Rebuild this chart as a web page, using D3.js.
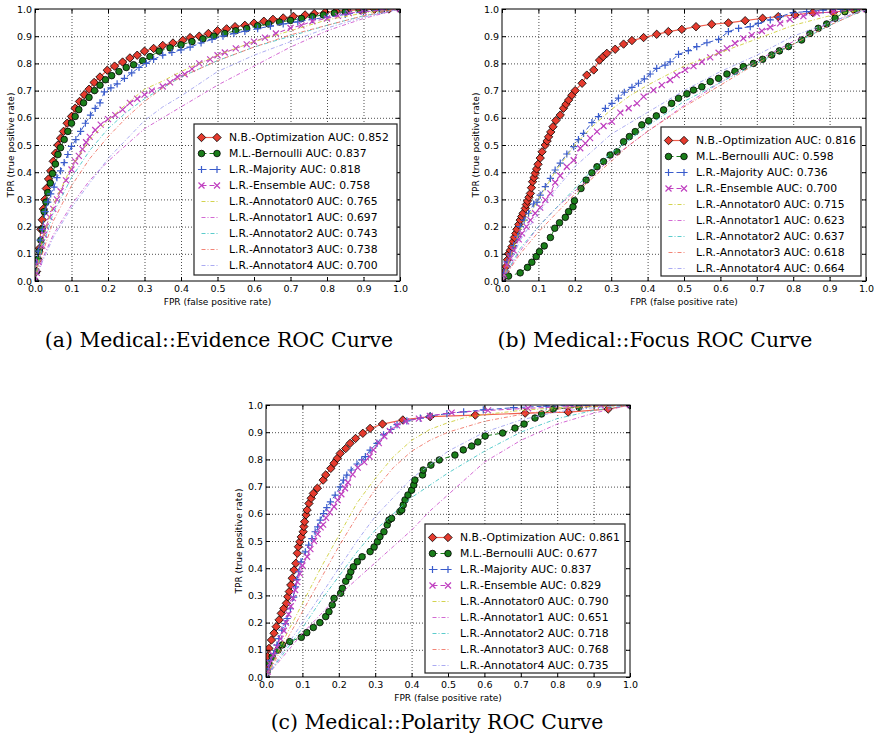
<!DOCTYPE html>
<html>
<head>
<meta charset="utf-8">
<script src="https://cdn.jsdelivr.net/npm/d3@7"></script>
<style>
  body { margin: 0; background: #fff; }
  svg { display: block; }
</style>
</head>
<body>
<svg id="fig" width="874" height="746"></svg>
<script>
// ---------------- data ----------------
const axisTicks = [0, 0.1, 0.2, 0.3, 0.4, 0.5, 0.6, 0.7, 0.8, 0.9, 1.0];
const seriesLabels = ["N.B.-Optimization", "M.L.-Bernoulli", "L.R.-Majority", "L.R.-Ensemble",
  "L.R.-Annotator0", "L.R.-Annotator1", "L.R.-Annotator2", "L.R.-Annotator3", "L.R.-Annotator4"];
const captions = ["(a) Medical::Evidence ROC Curve", "(b) Medical::Focus ROC Curve", "(c) Medical::Polarity ROC Curve"];

const evidenceAUC = [0.852, 0.837, 0.818, 0.758, 0.765, 0.697, 0.743, 0.738, 0.700];
const focusAUC    = [0.816, 0.598, 0.736, 0.700, 0.715, 0.623, 0.637, 0.618, 0.664];
const polarityAUC = [0.861, 0.677, 0.837, 0.829, 0.790, 0.651, 0.718, 0.768, 0.735];

// ROC points as [FPR, TPR]
const evNB = [[0,0],[0.004,0.035],[0.008,0.08],[0.012,0.12],[0.016,0.19],[0.02,0.225],[0.023,0.265],[0.027,0.30],[0.031,0.34],[0.037,0.375],[0.043,0.405],[0.05,0.44],[0.056,0.47],[0.063,0.5],[0.07,0.525],[0.078,0.55],[0.088,0.58],[0.1,0.605],[0.11,0.635],[0.122,0.66],[0.135,0.685],[0.148,0.705],[0.162,0.73],[0.178,0.75],[0.198,0.775],[0.218,0.79],[0.24,0.805],[0.26,0.82],[0.28,0.83],[0.3,0.845],[0.325,0.855],[0.35,0.866],[0.378,0.875],[0.405,0.885],[0.425,0.895],[0.45,0.9],[0.475,0.91],[0.5,0.92],[0.525,0.927],[0.548,0.935],[0.575,0.94],[0.6,0.948],[0.627,0.955],[0.652,0.962],[0.68,0.967],[0.708,0.973],[0.74,0.978],[0.765,0.983],[0.795,0.988],[0.825,0.992],[0.855,0.995],[0.89,0.997],[0.93,0.999],[0.97,1],[1,1]];
const evML = [[0,0],[0.004,0.035],[0.008,0.08],[0.012,0.11],[0.016,0.15],[0.02,0.19],[0.025,0.255],[0.03,0.29],[0.035,0.325],[0.042,0.36],[0.048,0.395],[0.056,0.43],[0.063,0.465],[0.07,0.49],[0.08,0.52],[0.09,0.55],[0.1,0.58],[0.11,0.605],[0.12,0.63],[0.133,0.655],[0.148,0.675],[0.163,0.7],[0.178,0.72],[0.193,0.74],[0.21,0.755],[0.23,0.77],[0.25,0.785],[0.27,0.795],[0.295,0.81],[0.315,0.825],[0.34,0.845],[0.37,0.857],[0.4,0.868],[0.43,0.88],[0.46,0.89],[0.49,0.9],[0.52,0.91],[0.55,0.92],[0.58,0.928],[0.61,0.938],[0.64,0.945],[0.67,0.952],[0.7,0.958],[0.73,0.965],[0.76,0.972],[0.79,0.978],[0.82,0.985],[0.85,0.99],[0.9,0.995],[0.95,0.998],[1,1]];
const evMaj = [[0,0],[0.004,0.07],[0.009,0.11],[0.014,0.15],[0.02,0.19],[0.028,0.255],[0.035,0.29],[0.043,0.32],[0.052,0.345],[0.06,0.38],[0.07,0.405],[0.08,0.435],[0.09,0.465],[0.1,0.495],[0.112,0.52],[0.125,0.55],[0.138,0.58],[0.152,0.61],[0.165,0.635],[0.178,0.655],[0.19,0.695],[0.208,0.71],[0.225,0.725],[0.245,0.745],[0.265,0.765],[0.285,0.785],[0.305,0.8],[0.325,0.815],[0.35,0.83],[0.375,0.84],[0.4,0.85],[0.425,0.86],[0.455,0.875],[0.485,0.888],[0.515,0.9],[0.545,0.91],[0.575,0.918],[0.61,0.928],[0.645,0.937],[0.68,0.945],[0.72,0.953],[0.76,0.962],[0.8,0.97],[0.85,0.98],[0.9,0.99],[0.95,0.996],[1,1]];
const evEns = [[0,0],[0.005,0.03],[0.01,0.07],[0.02,0.13],[0.025,0.17],[0.03,0.2],[0.04,0.235],[0.05,0.265],[0.06,0.3],[0.07,0.33],[0.085,0.37],[0.1,0.41],[0.11,0.44],[0.12,0.46],[0.13,0.485],[0.14,0.51],[0.15,0.53],[0.165,0.555],[0.18,0.575],[0.2,0.595],[0.22,0.61],[0.24,0.63],[0.26,0.655],[0.28,0.67],[0.3,0.685],[0.32,0.7],[0.35,0.715],[0.37,0.73],[0.39,0.75],[0.41,0.76],[0.43,0.78],[0.45,0.8],[0.48,0.815],[0.5,0.83],[0.52,0.84],[0.55,0.855],[0.58,0.87],[0.6,0.88],[0.63,0.895],[0.66,0.91],[0.7,0.93],[0.73,0.94],[0.76,0.955],[0.8,0.965],[0.83,0.975],[0.86,0.985],[0.9,0.99],[0.95,0.995],[1,1]];
const evA0 = [[0,0],[0.02,0.15],[0.05,0.28],[0.1,0.42],[0.15,0.52],[0.2,0.59],[0.25,0.65],[0.3,0.705],[0.35,0.735],[0.4,0.77],[0.45,0.8],[0.5,0.83],[0.6,0.88],[0.7,0.92],[0.8,0.96],[0.9,0.985],[1,1]];
const evA1 = [[0,0],[0.02,0.08],[0.05,0.17],[0.1,0.28],[0.15,0.37],[0.2,0.44],[0.25,0.5],[0.3,0.56],[0.35,0.6],[0.4,0.64],[0.5,0.72],[0.6,0.79],[0.7,0.86],[0.8,0.92],[0.9,0.965],[1,1]];
const evA2 = [[0,0],[0.02,0.12],[0.05,0.25],[0.1,0.38],[0.15,0.48],[0.2,0.56],[0.25,0.62],[0.3,0.67],[0.35,0.71],[0.4,0.75],[0.5,0.81],[0.6,0.86],[0.7,0.9],[0.8,0.94],[0.9,0.975],[1,1]];
const evA3 = [[0,0],[0.02,0.1],[0.05,0.22],[0.1,0.35],[0.15,0.45],[0.2,0.53],[0.25,0.6],[0.3,0.66],[0.35,0.71],[0.4,0.75],[0.5,0.81],[0.6,0.86],[0.7,0.905],[0.8,0.94],[0.9,0.975],[1,1]];
const evA4 = [[0,0],[0.02,0.07],[0.05,0.16],[0.1,0.27],[0.15,0.36],[0.2,0.45],[0.25,0.52],[0.3,0.59],[0.35,0.64],[0.4,0.68],[0.5,0.77],[0.6,0.83],[0.7,0.88],[0.8,0.93],[0.9,0.97],[1,1]];

const foNB = [[0,0],[0.005,0.016],[0.008,0.035],[0.011,0.053],[0.015,0.078],[0.018,0.1],[0.023,0.113],[0.027,0.126],[0.031,0.145],[0.034,0.16],[0.038,0.175],[0.041,0.19],[0.046,0.208],[0.05,0.224],[0.054,0.237],[0.058,0.249],[0.064,0.267],[0.067,0.281],[0.07,0.294],[0.074,0.308],[0.078,0.322],[0.081,0.343],[0.084,0.365],[0.088,0.38],[0.091,0.396],[0.095,0.412],[0.099,0.429],[0.105,0.452],[0.11,0.475],[0.119,0.5],[0.124,0.515],[0.128,0.53],[0.134,0.548],[0.14,0.567],[0.148,0.59],[0.16,0.61],[0.169,0.635],[0.176,0.65],[0.183,0.665],[0.192,0.683],[0.201,0.7],[0.22,0.727],[0.233,0.757],[0.252,0.776],[0.268,0.812],[0.278,0.825],[0.288,0.837],[0.311,0.852],[0.334,0.871],[0.357,0.884],[0.389,0.895],[0.425,0.907],[0.457,0.917],[0.494,0.925],[0.533,0.935],[0.576,0.944],[0.622,0.949],[0.668,0.957],[0.716,0.966],[0.759,0.972],[0.805,0.978],[0.854,0.987],[0.91,0.988],[0.965,0.998],[1,1]];
const foML = [[0,0],[0.005,0.016],[0.018,0.018],[0.05,0.03],[0.07,0.05],[0.082,0.069],[0.094,0.09],[0.103,0.108],[0.116,0.129],[0.133,0.16],[0.145,0.194],[0.158,0.214],[0.174,0.234],[0.183,0.255],[0.195,0.273],[0.199,0.295],[0.217,0.34],[0.231,0.371],[0.247,0.398],[0.261,0.42],[0.279,0.439],[0.297,0.463],[0.316,0.475],[0.334,0.512],[0.35,0.531],[0.366,0.549],[0.384,0.574],[0.403,0.589],[0.424,0.607],[0.444,0.629],[0.466,0.653],[0.485,0.672],[0.508,0.688],[0.526,0.702],[0.549,0.714],[0.572,0.733],[0.595,0.745],[0.618,0.761],[0.64,0.771],[0.663,0.788],[0.691,0.8],[0.716,0.815],[0.741,0.831],[0.762,0.846],[0.787,0.862],[0.823,0.886],[0.846,0.91],[0.869,0.929],[0.892,0.945],[0.915,0.966],[0.942,0.99],[0.974,0.996],[1,1]];
const foMaj = [[0,0],[0.005,0.03],[0.014,0.07],[0.023,0.1],[0.032,0.13],[0.043,0.163],[0.05,0.2],[0.061,0.224],[0.073,0.249],[0.087,0.283],[0.096,0.29],[0.105,0.316],[0.119,0.347],[0.133,0.377],[0.146,0.408],[0.16,0.433],[0.178,0.467],[0.197,0.494],[0.21,0.52],[0.224,0.543],[0.247,0.582],[0.265,0.604],[0.284,0.635],[0.302,0.653],[0.32,0.672],[0.336,0.694],[0.357,0.712],[0.375,0.727],[0.391,0.743],[0.407,0.761],[0.425,0.782],[0.448,0.794],[0.462,0.806],[0.485,0.833],[0.512,0.847],[0.535,0.862],[0.563,0.876],[0.595,0.888],[0.622,0.917],[0.65,0.929],[0.682,0.935],[0.704,0.947],[0.737,0.96],[0.764,0.972],[0.8,0.987],[0.837,0.99],[0.882,0.996],[0.93,0.999],[1,1]];
const foEns = [[0,0],[0.005,0.022],[0.014,0.059],[0.023,0.083],[0.032,0.112],[0.046,0.153],[0.055,0.175],[0.067,0.2],[0.078,0.224],[0.091,0.249],[0.105,0.27],[0.119,0.298],[0.133,0.322],[0.146,0.362],[0.16,0.387],[0.178,0.42],[0.197,0.444],[0.215,0.488],[0.229,0.506],[0.242,0.525],[0.261,0.549],[0.279,0.57],[0.302,0.586],[0.325,0.619],[0.348,0.635],[0.371,0.653],[0.389,0.678],[0.416,0.702],[0.439,0.72],[0.462,0.739],[0.48,0.757],[0.503,0.776],[0.526,0.79],[0.549,0.806],[0.572,0.822],[0.595,0.839],[0.618,0.855],[0.64,0.874],[0.663,0.892],[0.686,0.904],[0.714,0.919],[0.737,0.933],[0.764,0.947],[0.791,0.962],[0.828,0.974],[0.865,0.984],[0.91,0.99],[1,1]];
const foA0 = [[0,0],[0.05,0.19],[0.1,0.3],[0.15,0.41],[0.2,0.5],[0.25,0.57],[0.3,0.63],[0.35,0.68],[0.4,0.72],[0.5,0.79],[0.6,0.84],[0.7,0.89],[0.8,0.94],[0.9,0.975],[1,1]];
const foA1 = [[0,0],[0.05,0.11],[0.1,0.2],[0.15,0.27],[0.2,0.33],[0.25,0.39],[0.3,0.45],[0.35,0.5],[0.4,0.55],[0.5,0.645],[0.6,0.73],[0.7,0.81],[0.8,0.88],[0.9,0.95],[1,1]];
const foA2 = [[0,0],[0.05,0.12],[0.1,0.2],[0.15,0.27],[0.2,0.34],[0.25,0.41],[0.3,0.47],[0.35,0.52],[0.4,0.57],[0.5,0.66],[0.6,0.73],[0.7,0.8],[0.8,0.87],[0.9,0.94],[1,1]];
const foA3 = [[0,0],[0.05,0.1],[0.1,0.18],[0.15,0.25],[0.2,0.32],[0.25,0.38],[0.3,0.44],[0.35,0.5],[0.4,0.55],[0.5,0.64],[0.6,0.72],[0.7,0.8],[0.8,0.87],[0.9,0.94],[1,1]];
const foA4 = [[0,0],[0.05,0.15],[0.1,0.25],[0.15,0.34],[0.2,0.42],[0.25,0.48],[0.3,0.54],[0.35,0.58],[0.4,0.62],[0.5,0.7],[0.6,0.77],[0.7,0.83],[0.8,0.9],[0.9,0.95],[1,1]];

const poNB = [[0,0],[0.002,0.03],[0.004,0.075],[0.008,0.105],[0.015,0.136],[0.022,0.161],[0.028,0.185],[0.036,0.21],[0.042,0.234],[0.049,0.252],[0.056,0.271],[0.06,0.295],[0.064,0.314],[0.068,0.338],[0.072,0.363],[0.077,0.393],[0.082,0.418],[0.086,0.455],[0.089,0.479],[0.093,0.497],[0.097,0.515],[0.102,0.534],[0.104,0.553],[0.106,0.571],[0.11,0.596],[0.113,0.614],[0.118,0.638],[0.124,0.657],[0.13,0.675],[0.141,0.694],[0.157,0.724],[0.164,0.743],[0.178,0.767],[0.187,0.786],[0.196,0.804],[0.204,0.822],[0.219,0.84],[0.231,0.859],[0.246,0.877],[0.266,0.896],[0.286,0.914],[0.32,0.93],[0.376,0.945],[0.451,0.957],[0.575,0.963],[0.712,0.97],[0.83,0.974],[0.94,0.985],[1,1]];
const poML = [[0,0],[0.003,0.02],[0.008,0.05],[0.017,0.075],[0.033,0.099],[0.045,0.118],[0.065,0.13],[0.097,0.146],[0.112,0.163],[0.13,0.182],[0.148,0.2],[0.164,0.222],[0.173,0.24],[0.182,0.265],[0.187,0.289],[0.205,0.308],[0.21,0.326],[0.219,0.352],[0.228,0.369],[0.233,0.387],[0.24,0.405],[0.251,0.424],[0.264,0.442],[0.286,0.461],[0.297,0.478],[0.306,0.497],[0.313,0.516],[0.324,0.534],[0.333,0.559],[0.338,0.577],[0.345,0.583],[0.368,0.608],[0.373,0.614],[0.377,0.632],[0.382,0.651],[0.39,0.669],[0.4,0.687],[0.406,0.706],[0.409,0.724],[0.43,0.743],[0.432,0.761],[0.453,0.779],[0.476,0.798],[0.519,0.816],[0.542,0.835],[0.565,0.849],[0.582,0.864],[0.602,0.886],[0.65,0.897],[0.684,0.915],[0.709,0.93],[0.739,0.952],[0.757,0.967],[0.789,0.985],[0.86,0.992],[1,1]];
const poMaj = [[0,0],[0.007,0.031],[0.012,0.061],[0.021,0.086],[0.03,0.117],[0.035,0.141],[0.044,0.172],[0.053,0.196],[0.058,0.215],[0.067,0.251],[0.076,0.294],[0.081,0.331],[0.085,0.358],[0.09,0.387],[0.096,0.423],[0.108,0.46],[0.117,0.485],[0.126,0.509],[0.135,0.534],[0.142,0.552],[0.149,0.577],[0.158,0.601],[0.167,0.623],[0.177,0.644],[0.19,0.669],[0.204,0.699],[0.213,0.724],[0.222,0.742],[0.234,0.761],[0.25,0.783],[0.263,0.798],[0.273,0.81],[0.286,0.834],[0.305,0.859],[0.323,0.89],[0.343,0.91],[0.36,0.928],[0.387,0.942],[0.424,0.952],[0.451,0.96],[0.497,0.968],[0.543,0.975],[0.597,0.982],[0.68,0.99],[0.77,0.996],[0.88,0.999],[1,1]];
const poEns = [[0,0],[0.005,0.02],[0.01,0.05],[0.02,0.08],[0.03,0.11],[0.04,0.14],[0.049,0.17],[0.055,0.2],[0.062,0.23],[0.068,0.26],[0.074,0.29],[0.08,0.32],[0.086,0.35],[0.093,0.38],[0.1,0.41],[0.113,0.442],[0.122,0.47],[0.132,0.5],[0.142,0.525],[0.15,0.55],[0.157,0.56],[0.165,0.585],[0.175,0.605],[0.187,0.626],[0.197,0.65],[0.207,0.672],[0.217,0.694],[0.225,0.715],[0.238,0.745],[0.252,0.77],[0.27,0.79],[0.285,0.81],[0.295,0.835],[0.31,0.86],[0.325,0.885],[0.34,0.905],[0.36,0.925],[0.385,0.94],[0.42,0.95],[0.45,0.96],[0.51,0.972],[0.61,0.98],[0.72,0.988],[0.83,0.994],[0.92,0.998],[1,1]];
const poA0 = [[0,0],[0.05,0.14],[0.1,0.27],[0.15,0.4],[0.2,0.52],[0.25,0.64],[0.3,0.73],[0.35,0.81],[0.4,0.87],[0.45,0.91],[0.5,0.935],[0.55,0.955],[0.6,0.965],[0.7,0.98],[0.8,0.99],[0.9,0.995],[1,1]];
const poA1 = [[0,0],[0.05,0.08],[0.1,0.16],[0.15,0.23],[0.2,0.3],[0.25,0.36],[0.3,0.42],[0.35,0.48],[0.4,0.54],[0.45,0.61],[0.5,0.67],[0.55,0.73],[0.6,0.79],[0.7,0.87],[0.8,0.93],[0.9,0.97],[1,1]];
const poA2 = [[0,0],[0.05,0.09],[0.1,0.18],[0.15,0.28],[0.2,0.37],[0.25,0.46],[0.3,0.54],[0.35,0.6],[0.4,0.66],[0.5,0.75],[0.6,0.83],[0.7,0.9],[0.8,0.95],[0.9,0.98],[1,1]];
const poA3 = [[0,0],[0.05,0.12],[0.1,0.24],[0.15,0.36],[0.2,0.48],[0.25,0.59],[0.3,0.69],[0.35,0.77],[0.4,0.83],[0.45,0.87],[0.5,0.9],[0.6,0.94],[0.7,0.965],[0.8,0.985],[0.9,0.995],[1,1]];
const poA4 = [[0,0],[0.05,0.1],[0.1,0.2],[0.15,0.3],[0.2,0.4],[0.25,0.5],[0.3,0.59],[0.35,0.66],[0.4,0.73],[0.45,0.78],[0.5,0.83],[0.6,0.9],[0.7,0.945],[0.8,0.975],[0.9,0.99],[1,1]];

// ---------------- styling ----------------
const seriesStyle = [
  { stroke: "#f0604f", width: 1.2, dash: null,      marker: "diamond", fill: "#e63b2e", opacity: 1 },
  { stroke: "#1a7d1a", width: 1.0, dash: "5,3",     marker: "circle",  fill: "#1a7d1a", opacity: 1 },
  { stroke: "#3a5ccc", width: 1.0, dash: "5,3",     marker: "plus",    fill: "none",    opacity: 1 },
  { stroke: "#c040c0", width: 1.0, dash: "5,3",     marker: "cross",   fill: "none",    opacity: 1 },
  { stroke: "#cccc30", width: 1.0, dash: "4,2,1,2", marker: null, opacity: 0.85 },
  { stroke: "#cc50cc", width: 1.0, dash: "4,2,1,2", marker: null, opacity: 0.85 },
  { stroke: "#40c4c4", width: 1.0, dash: "4,2,1,2", marker: null, opacity: 0.85 },
  { stroke: "#f07060", width: 1.0, dash: "4,2,1,2", marker: null, opacity: 0.85 },
  { stroke: "#9d9df0", width: 1.0, dash: "4,2,1,2", marker: null, opacity: 0.85 }
];

const markerPath = {
  diamond: "M0,-4.2L4.2,0L0,4.2L-4.2,0Z",
  plus: "M-3.6,0H3.6M0,-3.6V3.6",
  cross: "M-3,-3L3,3M-3,3L3,-3"
};

const panels = [
  { curves: [evNB, evML, evMaj, evEns, evA0, evA1, evA2, evA3, evA4], auc: evidenceAUC, caption: captions[0],
    left: 35, right: 400, top: 9, bottom: 281, legend: { x: 194, y: 124, w: 203, h: 151 },
    yLabelX: 11, capX: 219, capY: 347 },
  { curves: [foNB, foML, foMaj, foEns, foA0, foA1, foA2, foA3, foA4], auc: focusAUC, caption: captions[1],
    left: 502, right: 866, top: 9, bottom: 281, legend: { x: 661, y: 127, w: 200, h: 149 },
    yLabelX: 476, capX: 655, capY: 347 },
  { curves: [poNB, poML, poMaj, poEns, poA0, poA1, poA2, poA3, poA4], auc: polarityAUC, caption: captions[2],
    left: 266, right: 630, top: 405, bottom: 677, legend: { x: 425, y: 524, w: 200, h: 149 },
    yLabelX: 239, capX: 437, capY: 729 }
];

const svg = d3.select("#fig");
const fmt1 = d3.format(".1f");
const fmt3 = d3.format(".3f");

function drawMarker(sel, type, st) {
  if (type === "circle") {
    sel.append("circle").attr("r", 3.3)
      .attr("fill", st.fill).attr("stroke", "#000").attr("stroke-width", 0.8);
  } else if (type === "diamond") {
    sel.append("path").attr("d", markerPath.diamond)
      .attr("fill", st.fill).attr("stroke", "#000").attr("stroke-width", 0.8);
  } else {
    sel.append("path").attr("d", markerPath[type])
      .attr("fill", "none").attr("stroke", st.stroke).attr("stroke-width", 1.2);
  }
}

panels.forEach((p, pi) => {
  const x = d3.scaleLinear().domain([0, 1]).range([p.left, p.right]);
  const y = d3.scaleLinear().domain([0, 1]).range([p.bottom, p.top]);
  const W = p.right - p.left, H = p.bottom - p.top;
  const g = svg.append("g");

  const clipId = "clip" + pi;
  svg.append("clipPath").attr("id", clipId)
    .append("rect").attr("x", p.left).attr("y", p.top).attr("width", W).attr("height", H);

  // dotted grid
  const gridX = g.append("g").attr("transform", `translate(0,${p.bottom})`)
    .call(d3.axisBottom(x).tickValues(axisTicks.slice(1, -1)).tickSize(-H).tickFormat(""));
  const gridY = g.append("g").attr("transform", `translate(${p.left},0)`)
    .call(d3.axisLeft(y).tickValues(axisTicks.slice(1, -1)).tickSize(-W).tickFormat(""));
  [gridX, gridY].forEach(a => {
    a.select(".domain").remove();
    a.selectAll("line").attr("stroke", "#000").attr("stroke-width", 0.7).attr("stroke-dasharray", "1,2");
  });

  // curves
  const plot = g.append("g").attr("clip-path", `url(#${clipId})`);
  const line = d3.line().x(d => x(d[0])).y(d => y(d[1]));
  p.curves.forEach((c, si) => {
    const st = seriesStyle[si];
    plot.append("path").datum(c).attr("d", line)
      .attr("fill", "none").attr("stroke", st.stroke).attr("stroke-width", st.width)
      .attr("stroke-dasharray", st.dash).attr("opacity", st.opacity);
    if (st.marker) {
      const m = plot.append("g").selectAll("g").data(c).join("g")
        .attr("transform", d => `translate(${x(d[0])},${y(d[1])})`);
      m.each(function () { drawMarker(d3.select(this), st.marker, st); });
    }
  });

  // ticks on all four sides, pointing inward
  const tickFont = a => a.selectAll("text").attr("font-family", "DejaVu Sans").attr("font-size", 9.5).attr("fill", "#000");
  const ax = [
    g.append("g").attr("transform", `translate(0,${p.bottom})`)
      .call(d3.axisBottom(x).tickValues(axisTicks).tickFormat(fmt1).tickSizeInner(-4).tickSizeOuter(0).tickPadding(4)),
    g.append("g").attr("transform", `translate(${p.left},0)`)
      .call(d3.axisLeft(y).tickValues(axisTicks).tickFormat(fmt1).tickSizeInner(-4).tickSizeOuter(0).tickPadding(3)),
    g.append("g").attr("transform", `translate(0,${p.top})`)
      .call(d3.axisTop(x).tickValues(axisTicks).tickFormat("").tickSizeInner(-4).tickSizeOuter(0)),
    g.append("g").attr("transform", `translate(${p.right},0)`)
      .call(d3.axisRight(y).tickValues(axisTicks).tickFormat("").tickSizeInner(-4).tickSizeOuter(0))
  ];
  ax.forEach(a => {
    a.select(".domain").remove();
    a.selectAll("line").attr("stroke", "#000").attr("stroke-width", 1);
    tickFont(a);
  });

  g.append("rect").attr("x", p.left).attr("y", p.top).attr("width", W).attr("height", H)
    .attr("fill", "none").attr("stroke", "#000").attr("stroke-width", 1);

  // axis titles
  g.append("text").attr("x", (p.left + p.right) / 2).attr("y", p.bottom + 21)
    .attr("text-anchor", "middle").attr("dominant-baseline", "central")
    .attr("font-family", "DejaVu Sans").attr("font-size", 9)
    .text("FPR (false positive rate)");
  g.append("text").attr("transform", `translate(${p.yLabelX},${(p.top + p.bottom) / 2}) rotate(-90)`)
    .attr("text-anchor", "middle").attr("dominant-baseline", "central")
    .attr("font-family", "DejaVu Sans").attr("font-size", 9)
    .text("TPR (true positive rate)");

  // legend
  const L = p.legend;
  const lg = g.append("g");
  lg.append("rect").attr("x", L.x).attr("y", L.y).attr("width", L.w).attr("height", L.h)
    .attr("fill", "#fff").attr("stroke", "#222").attr("stroke-width", 1.2);
  seriesLabels.forEach((name, si) => {
    const st = seriesStyle[si];
    const ry = L.y + 13.5 + si * 16;
    const x0 = L.x + 7.5, x1 = L.x + 23;
    if (st.marker) {
      lg.append("line").attr("x1", x0).attr("x2", x1).attr("y1", ry).attr("y2", ry)
        .attr("stroke", st.stroke).attr("stroke-width", st.width).attr("stroke-dasharray", st.dash);
      [x0, x1].forEach(mx => drawMarker(lg.append("g").attr("transform", `translate(${mx},${ry})`), st.marker, st));
    } else {
      lg.append("line").attr("x1", x0).attr("x2", x1 + 2).attr("y1", ry).attr("y2", ry)
        .attr("stroke", st.stroke).attr("stroke-width", st.width).attr("stroke-dasharray", st.dash)
        .attr("opacity", st.opacity);
    }
    lg.append("text").attr("x", L.x + 35).attr("y", ry)
      .attr("dominant-baseline", "central")
      .attr("font-family", "DejaVu Sans").attr("font-size", 10.8).attr("fill", "#000")
      .text(`${name} AUC: ${fmt3(p.auc[si])}`);
  });

  // caption
  svg.append("text").attr("x", p.capX).attr("y", p.capY).attr("text-anchor", "middle")
    .attr("font-family", "DejaVu Serif").attr("font-size", 20.4).attr("fill", "#000")
    .text(p.caption);
});
</script>
</body>
</html>
